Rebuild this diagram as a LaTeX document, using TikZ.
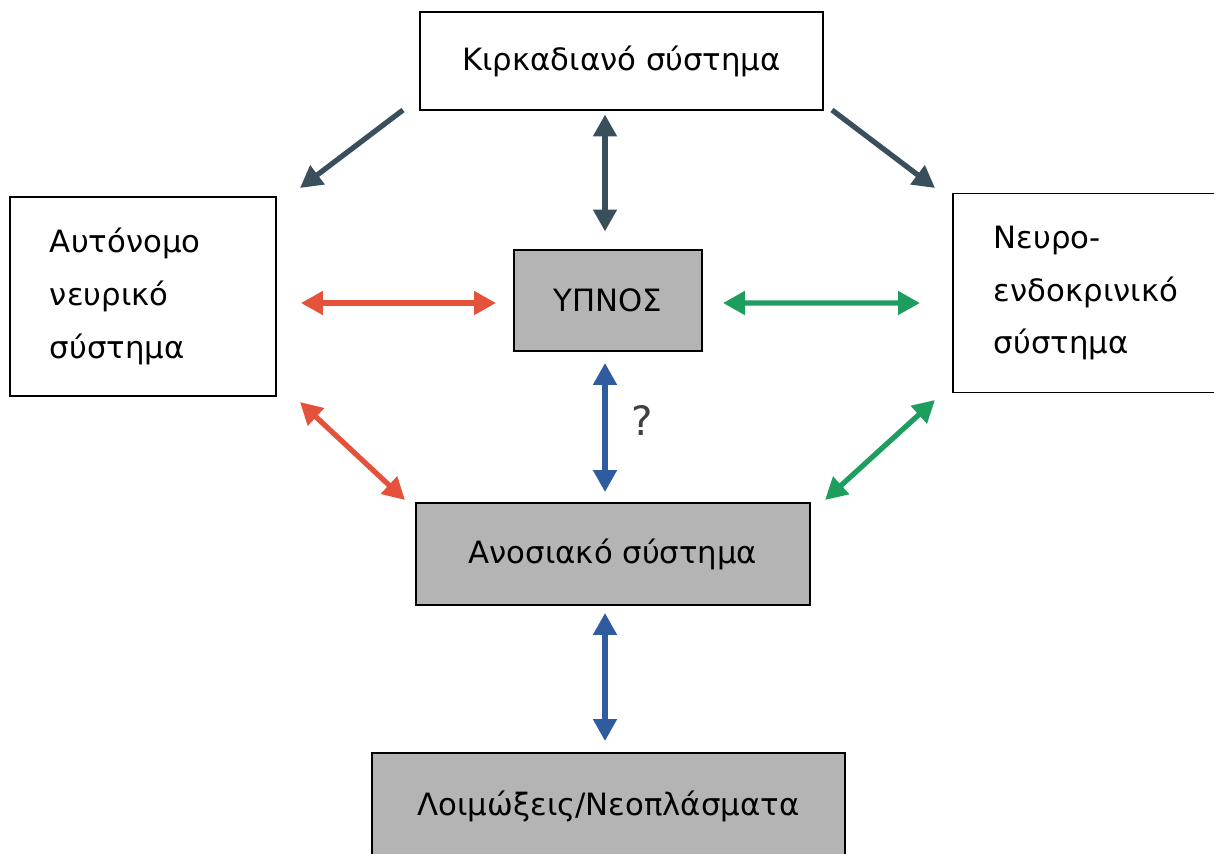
\documentclass[tikz,border=0pt]{standalone}
\usepackage{fontspec}
\setmainfont{DejaVu Sans}
\usetikzlibrary{arrows.meta,positioning,calc}
\definecolor{slate}{HTML}{3A4F5C}
\definecolor{redarr}{HTML}{E4523B}
\definecolor{greenarr}{HTML}{1E9E5E}
\definecolor{bluearr}{HTML}{2E5C9F}
\definecolor{boxgray}{HTML}{B4B4B4}

\begin{document}
\begin{tikzpicture}[x=0.02cm,y=-0.02cm,
 font=\fontsize{17.5}{30}\selectfont,
 sysbox/.style={draw,line width=1.1pt,inner sep=0pt,align=center},
 sidebox/.style={draw,line width=1.1pt,inner ysep=0pt,align=left,minimum height=199*0.02cm},
 grbox/.style={sysbox,fill=boxgray},
 arr/.style={line width=3pt,-{Triangle[length=12.5pt,width=13pt]}},
 darr/.style={line width=3pt,{Triangle[length=12.5pt,width=13pt]}-{Triangle[length=12.5pt,width=13pt]}}]
\clip (0,0) rectangle (1214,853);
\fill[white] (0,0) rectangle (1214,853);
% boxes
\node[sysbox,minimum width=403*0.02cm,minimum height=98*0.02cm] (kirk) at (621.5,61) {Κιρκαδιανό σύστημα};
\node[grbox,minimum width=188*0.02cm,minimum height=101*0.02cm] (hypnos) at (608,300.5) {ΥΠΝΟΣ};
\node[sidebox,inner xsep=40*0.02cm,text width=186*0.02cm] (auto) at (143,296.5) {Αυτόνομο\\νευρικό\\σύστημα};
\node[sidebox,inner xsep=41*0.02cm,text width=200*0.02cm,anchor=west] (neuro) at (952,293) {Νευρο-\\ενδοκρινικό\\σύστημα};
\node[grbox,minimum width=394*0.02cm,minimum height=102*0.02cm] (anos) at (613,554) {Ανοσιακό σύστημα};
\node[grbox,minimum width=473*0.02cm,minimum height=106*0.02cm] (loim) at (608.5,806) {Λοιμώξεις/Νεοπλάσματα};
% free ends of the connectors
\coordinate (k1) at (403,110);
\coordinate (a1) at (300,188);
\coordinate (k2) at (832,110);
\coordinate (n1) at (935,188);
\coordinate (a2) at (300,402);
\coordinate (s1) at (405,500);
\coordinate (n2) at (935,400);
\coordinate (s2) at (825,500);
% connectors
\draw[arr,slate] (k1) -- (a1);
\draw[arr,slate] (k2) -- (n1);
\draw[darr,slate,shorten <=2pt,shorten >=10pt] (kirk.south -| 605,0) -- (hypnos.north -| 605,0);
\draw[darr,redarr] ($(auto.east)+(24,6.5)$) -- ($(hypnos.west)+(-17,2.5)$);
\draw[darr,greenarr] ($(hypnos.east)+(20,2.5)$) -- ($(neuro.west)+(-32,10)$);
\draw[darr,bluearr] ($(hypnos.south -| 605,0)+(0,11)$) -- ($(anos.north -| 605,0)+(0,-10)$) node[midway,right=10pt,black!75,yshift=4pt,font=\fontsize{23}{23}\selectfont] (q) {?};
\draw[darr,redarr] (a2) -- (s1);
\draw[darr,greenarr] (n2) -- (s2);
\draw[darr,bluearr] ($(anos.south -| 605,0)+(0,7)$) -- ($(loim.north -| 605,0)+(0,-11)$);
\end{tikzpicture}
\end{document}
